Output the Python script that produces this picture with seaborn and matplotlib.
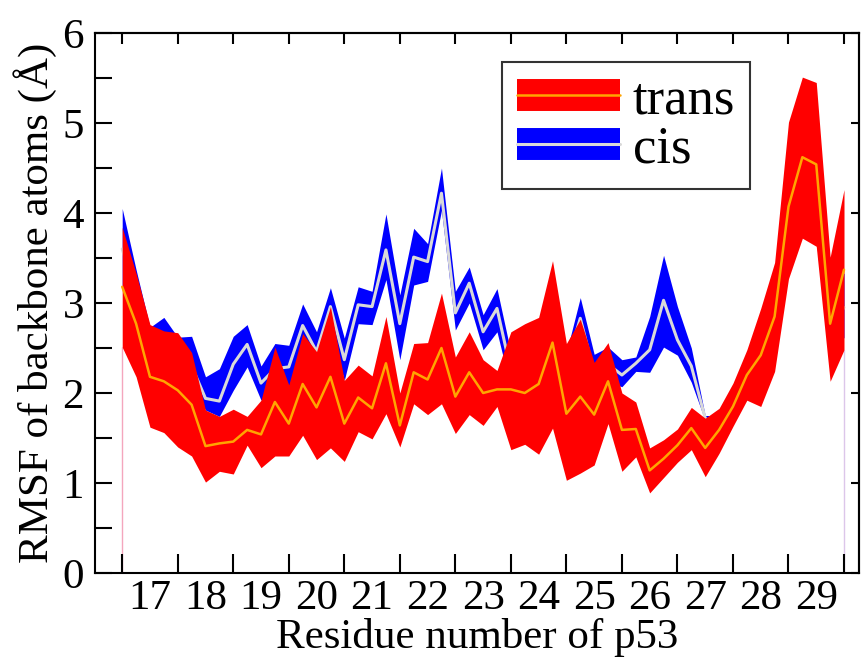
import numpy as np
import pandas as pd
import matplotlib
matplotlib.use("Agg")
import matplotlib.pyplot as plt
import seaborn as sns
from matplotlib.lines import Line2D


#%% Data (RMSF per backbone atom, 4 atoms per residue)
residue_start       = 16.5
atoms_per_residue   = 4
residue_labels      = [17, 18, 19, 20, 21, 22, 23, 24, 25, 26, 27, 28, 29]

trans_mean  = [3.18, 2.77, 2.18, 2.13, 2.03, 1.87, 1.41, 1.44, 1.46, 1.59, 1.54, 1.90, 1.66, 2.10,
               1.84, 2.18, 1.66, 1.95, 1.83, 2.33, 1.64, 2.23, 2.15, 2.50, 1.96, 2.23, 2.00, 2.04,
               2.04, 2.00, 2.10, 2.56, 1.77, 1.96, 1.76, 2.13, 1.59, 1.60, 1.14, 1.27, 1.42, 1.61,
               1.39, 1.59, 1.85, 2.20, 2.42, 2.85, 4.07, 4.62, 4.54, 2.77, 3.37]
trans_upper = [3.84, 3.33, 2.76, 2.69, 2.67, 2.45, 1.81, 1.74, 1.82, 1.74, 1.92, 2.51, 2.09, 2.66,
               2.46, 2.96, 2.14, 2.31, 2.19, 2.85, 2.00, 2.55, 2.56, 3.11, 2.40, 2.68, 2.37, 2.25,
               2.68, 2.77, 2.84, 3.47, 2.55, 2.82, 2.34, 2.56, 2.00, 1.90, 1.39, 1.48, 1.60, 1.84,
               1.72, 1.83, 2.11, 2.48, 2.94, 3.45, 5.01, 5.51, 5.45, 3.51, 4.26]
trans_lower = [2.51, 2.18, 1.62, 1.56, 1.40, 1.30, 1.01, 1.13, 1.10, 1.42, 1.17, 1.30, 1.30, 1.53,
               1.26, 1.39, 1.24, 1.57, 1.49, 1.77, 1.40, 1.88, 1.76, 1.88, 1.55, 1.76, 1.64, 1.85,
               1.37, 1.43, 1.32, 1.61, 1.03, 1.11, 1.20, 1.66, 1.13, 1.29, 0.89, 1.06, 1.23, 1.37,
               1.07, 1.33, 1.63, 1.92, 1.85, 2.24, 3.27, 3.72, 3.63, 2.13, 2.48]

cis_mean    = [3.60, 3.10, 2.50, 2.60, 2.45, 2.30, 1.94, 1.91, 2.32, 2.54, 2.11, 2.27, 2.29, 2.75,
               2.46, 2.96, 2.37, 2.98, 2.96, 3.59, 2.77, 3.51, 3.46, 4.22, 2.89, 3.22, 2.68, 2.94,
               2.25, 2.20, 2.20, 2.25, 2.30, 2.83, 2.22, 2.32, 2.20, 2.33, 2.48, 3.03, 2.59, 2.30,
               1.72, 1.60, 1.85, 2.20, 2.40, 2.80, 4.00, 4.50, 4.40, 2.70, 2.95]
cis_upper   = [4.05, 3.37, 2.73, 2.84, 2.62, 2.63, 2.18, 2.27, 2.63, 2.76, 2.30, 2.55, 2.53, 2.99,
               2.68, 3.17, 2.61, 3.18, 3.13, 3.99, 3.09, 3.83, 3.66, 4.50, 3.13, 3.40, 2.87, 3.16,
               2.45, 2.40, 2.40, 2.45, 2.45, 3.06, 2.43, 2.51, 2.37, 2.40, 2.85, 3.53, 2.96, 2.50,
               1.75, 1.75, 2.00, 2.40, 2.80, 3.30, 4.80, 5.30, 5.20, 3.30, 3.33]
cis_lower   = [3.20, 2.80, 2.30, 2.40, 2.25, 2.10, 1.81, 1.74, 2.03, 2.29, 1.92, 2.05, 2.07, 2.50,
               2.20, 2.70, 2.14, 2.77, 2.76, 3.26, 2.37, 3.20, 3.24, 4.03, 2.70, 3.00, 2.48, 2.68,
               2.05, 2.00, 2.00, 2.05, 2.15, 2.59, 2.00, 2.12, 2.07, 2.24, 2.23, 2.51, 2.42, 2.12,
               1.69, 1.45, 1.70, 2.00, 2.00, 2.40, 3.40, 3.80, 3.70, 2.30, 2.62]

x_atom = residue_start + np.arange(len(trans_mean)) / atoms_per_residue

df = pd.DataFrame({"x": np.concatenate([x_atom, x_atom]),
                   "rmsf": trans_mean + cis_mean,
                   "state": ["trans"] * len(trans_mean) + ["cis"] * len(cis_mean)})


#%% Style
Color_Trans_Band    = "#ff0000"
Color_Trans_Line    = "#ffa500"
Color_Cis_Band      = "#0000ff"
Color_Cis_Line      = "#d9d9d9"

FontSize_Label      = 31
FontSize_TickLabel  = 31
FontSize_Legend     = 38
Axis_LineWidth      = 1.5

sns.set_style("ticks")
plt.rcParams["font.family"] = ["Liberation Serif", "DejaVu Serif"]
plt.rcParams["text.color"] = "k"
plt.rcParams["axes.labelcolor"] = "k"
plt.rcParams["xtick.color"] = "k"
plt.rcParams["ytick.color"] = "k"

Fig = plt.figure(figsize=[8.62, 6.58], dpi=100)
ax = Fig.add_axes([95 / 862, 85 / 658, 764 / 862, 540 / 658])

# cis below, trans on top
ax.fill_between(x_atom, cis_lower, cis_upper, color=Color_Cis_Band, linewidth=0, zorder=1)
sns.lineplot(data=df[df["state"] == "cis"], x="x", y="rmsf", ax=ax, color=Color_Cis_Line,
             linewidth=2.2, zorder=2, legend=False)
ax.fill_between(x_atom, trans_lower, trans_upper, color=Color_Trans_Band, linewidth=0, zorder=3)
sns.lineplot(data=df[df["state"] == "trans"], x="x", y="rmsf", ax=ax, color=Color_Trans_Line,
             linewidth=1.8, zorder=4, legend=False)

# thin edge lines at the first / last atom
ax.vlines(x_atom[0], 0, trans_lower[0], color="#f4a6bd", linewidth=1, zorder=0)
ax.vlines(x_atom[-1], 0, trans_lower[-1], color="#dcc6ea", linewidth=1, zorder=0)


# X axis
half_ticks = np.arange(residue_labels[0] - 0.5, residue_labels[-1] + 1, 1.0)
ax.set_xlim(16.01, 29.77)
ax.set_xticks(half_ticks)
ax.set_xticklabels([])
ax.set_xticks(residue_labels, minor=True)
ax.set_xticklabels([str(r) for r in residue_labels], minor=True, fontsize=FontSize_TickLabel)
ax.tick_params(axis="x", which="major", direction="in", length=14, width=Axis_LineWidth)
ax.tick_params(axis="x", which="minor", length=0, pad=5)
ax.set_xlabel("Residue number of p53", fontsize=FontSize_Label, labelpad=0)

# Y axis
ax.set_ylim(0, 6)
ax.set_yticks(np.arange(0, 7, 1))
ax.set_yticklabels([str(v) for v in range(7)], fontsize=FontSize_TickLabel)
ax.set_yticks(np.arange(0.5, 6, 1.0), minor=True)
ax.tick_params(axis="y", which="both", direction="in", length=12, width=Axis_LineWidth, pad=8)
ax.set_ylabel("RMSF of backbone atoms (Å)", fontsize=FontSize_Label, labelpad=4)

# top / right ticks, shorter
ax_top = ax.secondary_xaxis("top")
ax_top.set_xticks(half_ticks)
ax_top.set_xticklabels([])
ax_top.tick_params(direction="in", length=8, width=Axis_LineWidth)
ax_right = ax.secondary_yaxis("right")
ax_right.set_yticks(np.arange(0, 7, 1))
ax_right.set_yticklabels([])
ax_right.tick_params(direction="in", length=6, width=Axis_LineWidth)

for s in ax.spines.values():
    s.set_linewidth(Axis_LineWidth)
    s.set_color("k")
for a in (ax_top, ax_right):
    for s in a.spines.values():
        s.set_linewidth(Axis_LineWidth)


# Legend
h_trans = (Line2D([], [], color=Color_Trans_Band, linewidth=23, solid_capstyle="butt"),
           Line2D([], [], color=Color_Trans_Line, linewidth=1.8))
h_cis = (Line2D([], [], color=Color_Cis_Band, linewidth=23, solid_capstyle="butt"),
         Line2D([], [], color=Color_Cis_Line, linewidth=2.2))
leg = ax.legend([h_trans, h_cis], ["trans", "cis"], loc="upper right",
                bbox_to_anchor=((750 - 95) / 764, (573 - 62) / 540),
                fontsize=FontSize_Legend, handlelength=1.95, handletextpad=0.25,
                labelspacing=0.02, borderpad=0.28, borderaxespad=0,
                frameon=True, fancybox=False, shadow=False)
leg.get_frame().set_edgecolor("k")
leg.get_frame().set_linewidth(1.5)
leg.set_zorder(10)

Fig.savefig("out.png", dpi=100)
